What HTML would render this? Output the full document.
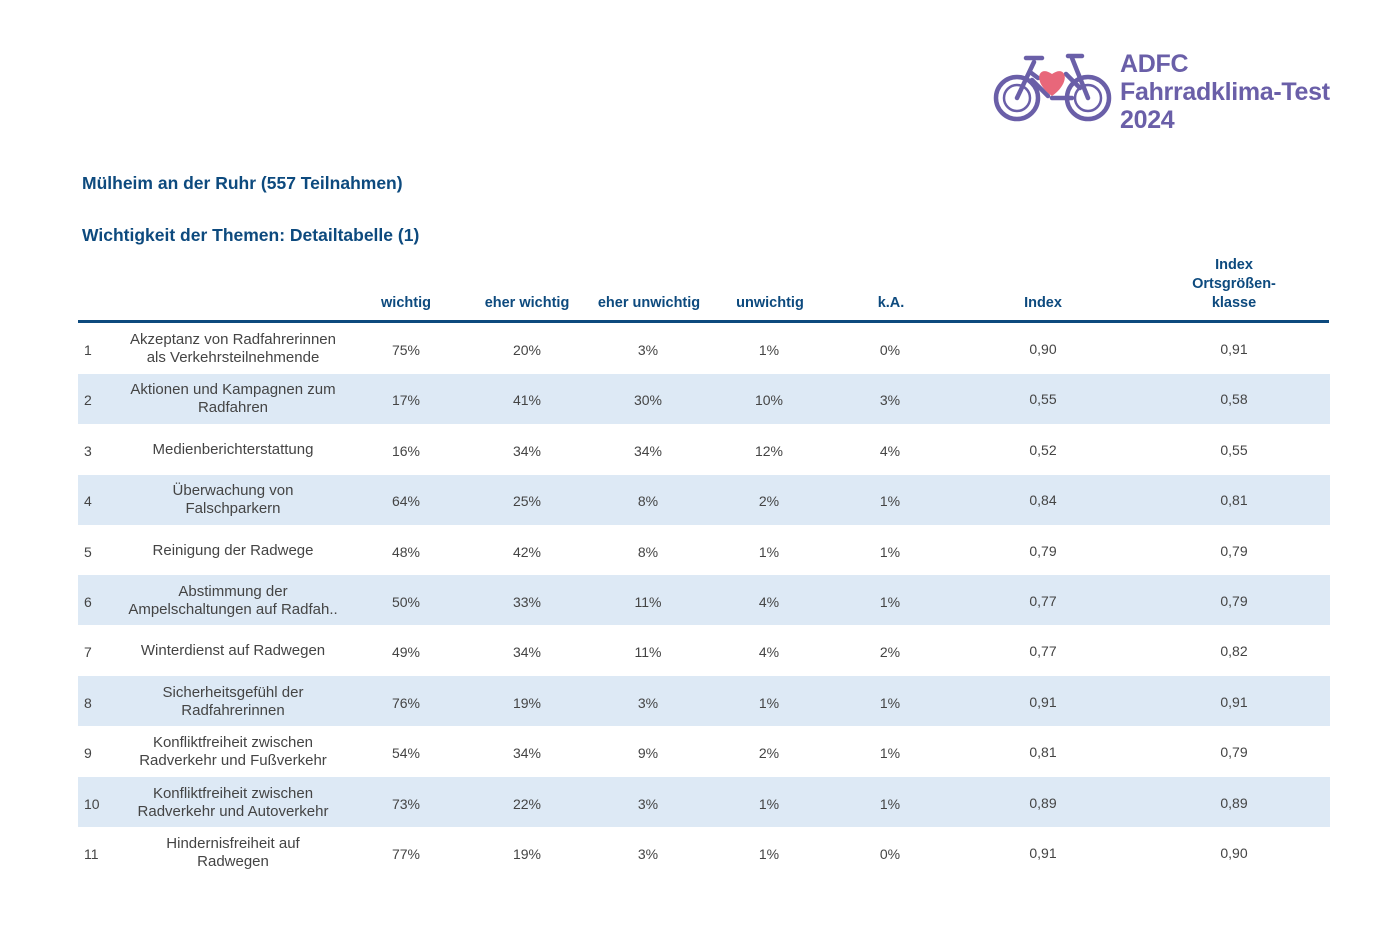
<!DOCTYPE html>
<html><head><meta charset="utf-8"><style>
body{margin:0;width:1400px;height:934px;background:#fff;font-family:"Liberation Sans",sans-serif;position:relative;overflow:hidden}
.a{position:absolute}
.t{color:#0d4a7e;font-weight:bold;font-size:17.5px;left:82px}
.h{color:#0d4a7e;font-weight:bold;font-size:14.5px;text-align:center;transform:translateX(-50%);white-space:nowrap}
.band{position:absolute;left:78px;width:1252px;height:50px;background:#dde9f5}
.c{position:absolute;transform:translate(-50%,-50%);font-size:14px;color:#444;text-align:center;line-height:18px;white-space:nowrap}
.c.f{font-size:15px}
.n{position:absolute;transform:translateY(-50%);font-size:14px;color:#444;left:84px}
</style></head><body>
<svg class="a" style="left:992px;top:52px" width="122" height="74" viewBox="0 0 122 74">
<g fill="none" stroke="#6a5fa8" stroke-width="4.5" stroke-linecap="round" stroke-linejoin="round">
<circle cx="25" cy="46" r="21"/><circle cx="25" cy="46" r="13" stroke-width="2.5"/>
<circle cx="96" cy="46" r="21"/><circle cx="96" cy="46" r="13" stroke-width="2.5"/>
<path d="M25 46 L42 10 M34 6 L50 6 M38 20 L46 26 M80 6 L96 46 M76 4 L90 4 M60 46 L80 46 M40 28 L56 44 M74 22 L88 36"/>
</g>
<path d="M60 44 C40 30 46 12 60 22 C74 12 80 30 60 44Z" fill="#e8677a"/>
</svg>
<div class="a" style="left:1120px;top:50px;color:#6a5fa8;font-weight:bold;font-size:25px;line-height:28px;letter-spacing:-0.3px">ADFC<br>Fahrradklima-Test<br>2024</div>
<div class="a t" style="top:173px">Mülheim an der Ruhr (557 Teilnahmen)</div>
<div class="a t" style="top:225px">Wichtigkeit der Themen: Detailtabelle (1)</div>
<div class="a h" style="left:406px;top:295px">wichtig</div>
<div class="a h" style="left:527px;top:295px">eher wichtig</div>
<div class="a h" style="left:649px;top:295px">eher unwichtig</div>
<div class="a h" style="left:770px;top:295px">unwichtig</div>
<div class="a h" style="left:891px;top:295px">k.A.</div>
<div class="a h" style="left:1043px;top:295px">Index</div>
<div class="a h" style="left:1234px;top:256px;line-height:19px">Index<br>Ortsgrößen-<br>klasse</div>
<div class="a" style="left:78px;top:320px;width:1251px;height:3px;background:#0d4a7e"></div>
<div class="band" style="top:374px"></div>
<div class="band" style="top:475px"></div>
<div class="band" style="top:575px"></div>
<div class="band" style="top:676px"></div>
<div class="band" style="top:777px"></div>
<div id="rows"></div>
<script>
var d=[["Akzeptanz von Radfahrerinnen<br>als Verkehrsteilnehmende","75%","20%","3%","1%","0%","0,90","0,91"],
["Aktionen und Kampagnen zum<br>Radfahren","17%","41%","30%","10%","3%","0,55","0,58"],
["Medienberichterstattung","16%","34%","34%","12%","4%","0,52","0,55"],
["Überwachung von<br>Falschparkern","64%","25%","8%","2%","1%","0,84","0,81"],
["Reinigung der Radwege","48%","42%","8%","1%","1%","0,79","0,79"],
["Abstimmung der<br>Ampelschaltungen auf Radfah..","50%","33%","11%","4%","1%","0,77","0,79"],
["Winterdienst auf Radwegen","49%","34%","11%","4%","2%","0,77","0,82"],
["Sicherheitsgefühl der<br>Radfahrerinnen","76%","19%","3%","1%","1%","0,91","0,91"],
["Konfliktfreiheit zwischen<br>Radverkehr und Fußverkehr","54%","34%","9%","2%","1%","0,81","0,79"],
["Konfliktfreiheit zwischen<br>Radverkehr und Autoverkehr","73%","22%","3%","1%","1%","0,89","0,89"],
["Hindernisfreiheit auf<br>Radwegen","77%","19%","3%","1%","0%","0,91","0,90"]];
var xs=[233,406,527,648,769,890,1043,1234],h="";
d.forEach(function(r,i){var y=349+i*50.4;
h+='<div class="n" style="top:'+(y+1)+'px">'+(i+1)+'</div>';
r.forEach(function(v,j){h+='<div class="c'+(j==0?' f':'')+'" style="left:'+xs[j]+'px;top:'+(y+(j==0?0:1)+(j>=6?-1:0))+'px">'+v+'</div>';});});
document.getElementById('rows').innerHTML=h;
</script>
</body></html>
